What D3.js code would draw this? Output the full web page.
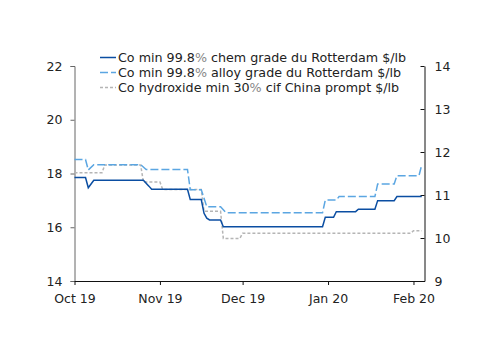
<!DOCTYPE html>
<html>
<head>
<meta charset="utf-8">
<script src="https://cdn.jsdelivr.net/npm/d3@7"></script>
<style>
  body { margin: 0; background: #fff; }
  svg text { font-family: "DejaVu Sans", Verdana, sans-serif; fill: #222; }
</style>
</head>
<body>
<div id="chart"></div>
<script>
const layout = {
    width: 500,
    height: 353,
    left: 74.5,
    right: 424.5,
    top: 66,
    bottom: 281
};

// series names (legend order)
const seriesNames = [
    "Co min 99.8% chem grade du Rotterdam $/lb",
    "Co min 99.8% alloy grade du Rotterdam $/lb",
    "Co hydroxide min 30% cif China prompt $/lb"
];

// chem grade, left axis
const chemDates = ["2019-10-01", "2019-10-05", "2019-10-06", "2019-10-08", "2019-10-26", "2019-10-28", "2019-10-29",
    "2019-11-11", "2019-11-12", "2019-11-16", "2019-11-17", "2019-11-18", "2019-11-19", "2019-11-23", "2019-11-24",
    "2019-12-30", "2019-12-31", "2020-01-03", "2020-01-04", "2020-01-11", "2020-01-12", "2020-01-18", "2020-01-19",
    "2020-01-25", "2020-01-26", "2020-02-04"];
const chemValues = [17.85, 17.85, 17.47, 17.75, 17.75, 17.53, 17.41,
    17.41, 17.03, 17.03, 16.52, 16.34, 16.27, 16.27, 16.02,
    16.02, 16.37, 16.37, 16.58, 16.58, 16.67, 16.67, 16.99,
    16.99, 17.14, 17.14];

// alloy grade, left axis
const alloyDates = ["2019-10-01", "2019-10-05", "2019-10-06", "2019-10-08", "2019-10-25", "2019-10-27",
    "2019-11-11", "2019-11-12", "2019-11-16", "2019-11-18", "2019-11-23", "2019-11-25",
    "2019-12-30", "2019-12-31", "2020-01-04", "2020-01-05", "2020-01-18", "2020-01-19",
    "2020-01-25", "2020-01-26", "2020-02-03", "2020-02-04"];
const alloyValues = [18.52, 18.52, 18.13, 18.33, 18.33, 18.15,
    18.15, 17.4, 17.4, 16.76, 16.76, 16.54,
    16.54, 17.01, 17.01, 17.14, 17.14, 17.61,
    17.61, 17.92, 17.92, 18.32];

// hydroxide, right axis
const hydroDates = ["2019-10-01", "2019-10-11", "2019-10-12", "2019-10-25", "2019-10-26", "2019-11-01", "2019-11-02",
    "2019-11-16", "2019-11-17", "2019-11-23", "2019-11-24", "2019-11-30", "2019-12-01",
    "2020-01-31", "2020-02-01", "2020-02-04"];
const hydroValues = [11.52, 11.52, 11.70, 11.70, 11.30, 11.30, 11.13,
    11.13, 10.62, 10.62, 9.99, 9.99, 10.11,
    10.11, 10.17, 10.17];

const xTickDates = ["2019-10-01", "2019-11-01", "2019-12-01", "2020-01-01", "2020-02-01"];
const xTickLabels = ["Oct 19", "Nov 19", "Dec 19", "Jan 20", "Feb 20"];
const leftTicks = [14, 16, 18, 20, 22];
const rightTicks = [9, 10, 11, 12, 13, 14];

const parse = d3.utcParse("%Y-%m-%d");

let svg = d3.select("#chart").append("svg")
    .attr("width", layout.width)
    .attr("height", layout.height);

let xScale = d3.scaleUtc()
    .domain([parse("2019-10-01"), parse("2020-02-05")])
    .range([layout.left, layout.right]);
let yLeft = d3.scaleLinear().domain([14, 22]).range([layout.bottom, layout.top]);
let yRight = d3.scaleLinear().domain([9, 14]).range([layout.bottom, layout.top]);

// left axis
let leftAxis = svg.append("g")
    .attr("transform", `translate(${layout.left},0)`)
    .call(d3.axisLeft(yLeft).tickValues(leftTicks).tickSize(4).tickPadding(8).tickFormat(d3.format("d")));
leftAxis.selectAll("line, .domain").attr("stroke", "#666");
leftAxis.selectAll("text").attr("font-size", 12.5).attr("fill", "#222");

// right axis, ticks point inward
let rightAxis = svg.append("g")
    .attr("transform", `translate(${layout.right},0)`)
    .call(d3.axisRight(yRight).tickValues(rightTicks).tickSizeInner(-4).tickSizeOuter(0).tickPadding(10).tickFormat(d3.format("d")));
rightAxis.selectAll("line, .domain").attr("stroke", "#111");
rightAxis.selectAll("text").attr("font-size", 12.5).attr("fill", "#222");

// bottom axis
let xAxis = svg.append("g")
    .attr("transform", `translate(0,${layout.bottom})`)
    .call(d3.axisBottom(xScale).tickValues(xTickDates.map(parse)).tickSizeInner(4).tickSizeOuter(0).tickPadding(9)
        .tickFormat((d, i) => xTickLabels[i]));
xAxis.selectAll("line, .domain").attr("stroke", "#111");
xAxis.selectAll("text").attr("font-size", 12.5).attr("fill", "#222");

const styles = [
    { color: "#0b4ea2", dash: null, width: 1.5 },
    { color: "#5ba6e2", dash: "8,3", width: 1.5 },
    { color: "#b5b5b5", dash: "3,2", width: 1.5 }
];

function drawLine(dates, values, yScale, style) {
    let pts = dates.map((d, i) => ({ date: parse(d), value: values[i] }));
    svg.append("path")
        .datum(pts)
        .attr("fill", "none")
        .attr("stroke", style.color)
        .attr("stroke-width", style.width)
        .attr("stroke-dasharray", style.dash)
        .attr("d", d3.line()
            .x(d => xScale(d.date))
            .y(d => yScale(d.value)));
}

drawLine(hydroDates, hydroValues, yRight, styles[2]);
drawLine(alloyDates, alloyValues, yLeft, styles[1]);
drawLine(chemDates, chemValues, yLeft, styles[0]);

// legend
let legend = svg.append("g").attr("transform", "translate(100,57.5)");
seriesNames.forEach((name, i) => {
    legend.append("line")
        .attr("x1", 0).attr("x2", 16)
        .attr("y1", i * 15).attr("y2", i * 15)
        .attr("stroke", styles[i].color)
        .attr("stroke-width", styles[i].width)
        .attr("stroke-dasharray", styles[i].dash);
    let parts = name.split("%");
    let t = legend.append("text")
        .attr("x", 18)
        .attr("y", i * 15)
        .attr("dy", "0.35em")
        .attr("font-size", 12.7);
    t.append("tspan").text(parts[0]);
    t.append("tspan").attr("fill", "#888").text("%");
    t.append("tspan").text(parts[1]);
});
</script>
</body>
</html>
